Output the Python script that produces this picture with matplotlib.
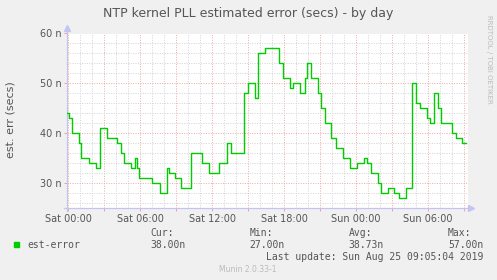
import matplotlib
matplotlib.use('Agg')
import matplotlib.pyplot as plt
from matplotlib.ticker import MultipleLocator, FixedLocator, FixedFormatter

# hours since Sat 00:00 where the value changes, and the value (nanoseconds)
hours = [-0.06, 0.08, 0.31, 0.92, 1.06, 1.75, 2.31, 2.67, 3.22, 4.06,
         4.39, 4.67, 5.22, 5.56, 5.75, 5.94, 7.00, 7.69, 8.25, 8.44,
         8.94, 9.44, 10.25, 11.15, 11.78, 12.58, 13.28, 13.56, 14.67, 15.03,
         15.58, 15.86, 16.42, 17.58, 17.92, 18.47, 18.75, 19.31, 19.72, 19.94,
         20.28, 20.83, 21.11, 21.44, 21.94, 22.36, 22.89, 23.50, 24.06, 24.69,
         24.89, 25.25, 25.81, 26.08, 26.64, 27.19, 27.61, 28.13, 28.69, 28.97,
         29.33, 29.89, 30.17, 30.50, 30.83, 31.06, 32.03, 32.31, 32.86, 33.17]
est_error = [44, 43, 40, 38, 35, 34, 33, 41, 39, 38,
             36, 34, 33, 35, 33, 31, 30, 28, 33, 32,
             31, 29, 36, 34, 32, 34, 38, 36, 48, 50,
             47, 56, 57, 54, 51, 49, 50, 48, 51, 54,
             51, 48, 45, 42, 39, 37, 35, 33, 34, 35,
             34, 32, 30, 28, 29, 28, 27, 29, 50, 46,
             45, 43, 42, 48, 45, 42, 40, 39, 38, 38]

x_label_hours = [0, 3, 6, 9, 12, 15, 18, 21, 24, 27, 30, 33]
x_labels = ['Sat 00:00', '', 'Sat 06:00', '', 'Sat 12:00', '', 'Sat 18:00', '',
            'Sun 00:00', '', 'Sun 06:00', '']
y_ticks = [30, 40, 50, 60]
y_labels = ['30 n', '40 n', '50 n', '60 n']
stat_names = ['Cur:', 'Min:', 'Avg:', 'Max:']
stat_values = ['38.00n', '27.00n', '38.73n', '57.00n']

W, H = 497, 280
bg = '#f0f0f0'
txt = '#555555'
axis_col = '#c4c4f2'

fig = plt.figure(figsize=(W / 100, H / 100), dpi=100, facecolor=bg)
ax = fig.add_axes([67 / W, 72 / H, 401 / W, 174.5 / H])
ax.set_facecolor('white')

ax.set_xlim(-0.083, 33.33)
ax.set_ylim(25, 60)

# grid: grey dotted every hour / 2n, red dotted every 3 hours / 10n
ax.xaxis.set_major_locator(FixedLocator(x_label_hours))
ax.xaxis.set_major_formatter(FixedFormatter(x_labels))
ax.xaxis.set_minor_locator(MultipleLocator(1))
ax.yaxis.set_major_locator(FixedLocator(y_ticks))
ax.yaxis.set_major_formatter(FixedFormatter(y_labels))
ax.yaxis.set_minor_locator(MultipleLocator(2))
ax.grid(which='minor', color='#d2d2d2', linestyle=(0, (1, 1.5)), linewidth=0.7)
ax.grid(which='major', color='#f2a6a6', linestyle=(0, (1, 1.5)), linewidth=0.7)
ax.set_axisbelow(True)

ax.tick_params(which='major', length=2, width=0.7, color='#f0a0a0',
               labelsize=7, labelcolor=txt, pad=2)
ax.tick_params(which='minor', length=0)

for s in ax.spines.values():
    s.set_visible(False)

# axis lines with small arrows, rrdtool style
ax.plot([0, 0], [-0.02, 1.02], color=axis_col, lw=0.9, transform=ax.transAxes, clip_on=False)
ax.plot([-0.008, 1.005], [0, 0], color=axis_col, lw=0.9, transform=ax.transAxes, clip_on=False)
ax.plot([0], [1.03], marker='^', ms=4, color=axis_col, transform=ax.transAxes, clip_on=False)
ax.plot([1.008], [0], marker='>', ms=4, color=axis_col, transform=ax.transAxes, clip_on=False)

ax.plot(hours, est_error, drawstyle='steps-post', color='#00cc00', lw=1.0, zorder=3)

fig.text(248 / W, 1 - 13 / H, 'NTP kernel PLL estimated error (secs) - by day',
         ha='center', va='center', fontsize=9, color=txt)
fig.text(11 / W, 1 - 120 / H, 'est. err (secs)', rotation=90,
         ha='center', va='center', fontsize=8, color=txt)
fig.text(489 / W, 1 - 15 / H, 'RRDTOOL / TOBI OETIKER', rotation=-90,
         ha='center', va='top', fontsize=5, color='#bbbbbb')

# legend block
mono = 'DejaVu Sans Mono'
fig.patches.append(plt.Rectangle((14 / W, 1 - 247 / H), 5 / W, 5 / H,
                                 transform=fig.transFigure, color='#00cc00'))
fig.text(27 / W, 1 - 245 / H, 'est-error', family=mono, fontsize=7,
         color=txt, va='center')
for i, (name, val) in enumerate(zip(stat_names, stat_values)):
    x = (150 + i * 99.3) / W
    fig.text(x, 1 - 233 / H, name, family=mono, fontsize=7, color=txt, va='center')
    fig.text(x, 1 - 245 / H, val, family=mono, fontsize=7, color=txt, va='center')
fig.text(483 / W, 1 - 257 / H, 'Last update: Sun Aug 25 09:05:04 2019',
         family=mono, fontsize=7, color=txt, va='center', ha='right')
fig.text(248 / W, 1 - 269 / H, 'Munin 2.0.33-1', fontsize=5.5,
         color='#bbbbbb', ha='center', va='center')

fig.savefig('out.png', dpi=100, facecolor=bg)
